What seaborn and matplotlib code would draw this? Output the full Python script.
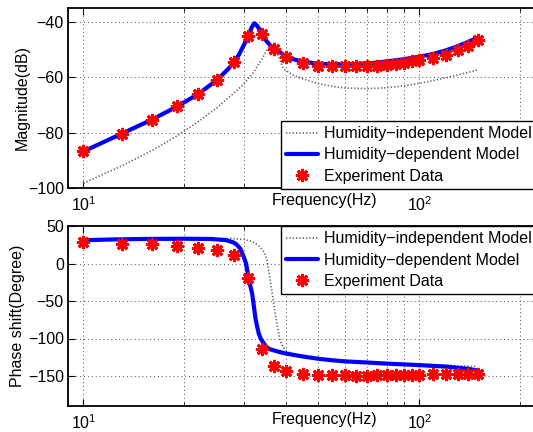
import matplotlib
matplotlib.use("Agg")
import matplotlib.pyplot as plt
import seaborn as sns
from matplotlib.ticker import LogLocator, NullFormatter, MultipleLocator

# ---- measured data (frequency in Hz) ----
exp_freq = [10, 13, 16, 19, 22, 25, 28, 31, 34, 37, 40, 45, 50, 55, 60, 65, 70,
            75, 80, 85, 90, 95, 100, 110, 120, 130, 140, 150]
exp_mag = [-86.8, -80.4, -75.3, -70.4, -66.0, -61.0, -54.6, -45.1, -44.5, -49.7,
           -52.6, -54.7, -55.8, -56.1, -56.1, -56.1, -56.0, -55.9, -55.6, -55.2,
           -54.7, -54.2, -53.7, -53.0, -51.8, -50.3, -48.6, -46.4]
exp_phase = [28.5, 26.5, 25.4, 23.0, 20.7, 17.7, 11.6, -19.1, -114.2, -136.8,
             -143.9, -147.4, -148.3, -149.2, -149.2, -150.3, -149.7, -149.2,
             -149.2, -149.2, -149.2, -148.3, -148.3, -147.4, -147.0, -147.0,
             -147.0, -147.4]

# ---- humidity-dependent model ----
dep_mag_freq = [10, 13, 16, 19, 22, 25, 27, 28, 29, 30, 31, 31.7, 32.3, 33, 34,
                35, 36, 37, 38.5, 40, 42.5, 45, 50, 55, 60, 65, 70, 75, 80, 90,
                100, 110, 120, 130, 140, 150]
dep_mag = [-86.8, -80.4, -75.3, -70.6, -66.0, -61.0, -57.0, -54.8, -52.0, -48.5,
           -45.0, -42.0, -40.5, -41.6, -44.3, -46.8, -48.5, -49.6, -51.0, -52.3,
           -53.6, -54.4, -55.1, -55.3, -55.3, -55.2, -55.0, -54.7, -54.3, -53.5,
           -52.6, -51.6, -50.3, -48.8, -47.2, -45.6]

dep_ph_freq = [10, 12, 15, 20, 24, 26.7, 28, 28.6, 29.3, 30, 30.5, 31, 31.4,
               31.8, 32.2, 32.5, 32.9, 33.3, 33.7, 34.5, 35.2, 36, 38, 40, 45,
               50, 55, 60, 70, 80, 100, 120, 140, 150]
dep_phase = [31.0, 32.0, 32.7, 33.0, 32.7, 31.0, 28.0, 25.2, 20.0, 9.0, 0.0,
             -18.0, -30.0, -40.0, -58.0, -72.0, -84.0, -94.0, -100.0, -107.0,
             -112.0, -114.5, -117.5, -120.0, -124.0, -127.0, -129.0, -130.5,
             -132.0, -133.5, -135.5, -137.5, -140.5, -143.0]

# ---- humidity-independent model ----
ind_mag_freq = [10, 13, 16, 19, 22, 25, 28, 30, 32, 34, 35.2, 36.3,
                37.3, 38.5, 39.4, 42, 44.8, 50, 55, 60, 70, 80, 90, 100, 110,
                120, 130, 140, 150]
ind_mag = [-98.3, -92.0, -86.5, -81.2, -76.0, -71.0, -65.8, -62.5, -58.5,
           -53.5, -50.1, -48.2, -49.5, -54.0, -56.9, -59.2, -60.5, -62.3, -63.3,
           -63.9, -64.1, -63.8, -63.1, -62.2, -61.2, -60.2, -59.2, -58.2, -57.3]

ind_ph_freq = [10, 15, 20, 24, 27.4, 30, 31.4, 32.5, 33.6, 34.5, 35.2, 35.8,
               36.5, 37.2, 37.8, 38.5, 39.3, 40.3, 43.3, 48.5, 55, 69, 80, 100,
               120, 148]
ind_phase = [31.0, 32.8, 33.5, 33.8, 33.5, 32.0, 30.0, 27.0, 22.0, 15.0, 5.0,
             -15.0, -40.0, -65.0, -84.0, -102.0, -112.0, -117.0, -123.0, -127.0,
             -129.5, -131.5, -132.5, -134.0, -135.5, -137.5]

labels = ["Humidity\u2212independent Model", "Humidity\u2212dependent Model",
          "Experiment Data"]

sns.set_theme(style="white")
plt.rcParams["font.family"] = ["Liberation Sans", "DejaVu Sans"]
plt.rcParams["mathtext.fontset"] = "custom"
plt.rcParams["mathtext.rm"] = "Liberation Sans"
plt.rcParams["mathtext.it"] = "Liberation Sans:italic"
plt.rcParams["mathtext.bf"] = "Liberation Sans:bold"
plt.rcParams["axes.unicode_minus"] = True

FS = 11.5
W, H = 533, 432
fig = plt.figure(figsize=(W / 100, H / 100), dpi=100)
fig.patch.set_facecolor("white")

left = 68 / W
width = (582 - 68) / W
ax1 = fig.add_axes([left, 1 - 188 / H, width, 180 / H])
ax2 = fig.add_axes([left, 1 - 406 / H, width, 180 / H])

asterisk = (8, 2, 0)


def draw(ax, f_ind, v_ind, f_dep, v_dep, f_exp, v_exp):
    sns.lineplot(x=f_ind, y=v_ind, ax=ax, color="0.4", lw=1.2,
                 linestyle=(0, (0.8, 1.2)), sort=False, estimator=None,
                 label=labels[0])
    sns.lineplot(x=f_dep, y=v_dep, ax=ax, color="#0000ff", lw=3.0,
                 sort=False, estimator=None, label=labels[1])
    sns.lineplot(x=f_exp, y=v_exp, ax=ax, color="red", linestyle="none",
                 marker=asterisk, markersize=9.5, markeredgewidth=2.0,
                 markeredgecolor="red", sort=False, estimator=None,
                 label=labels[2])


draw(ax1, ind_mag_freq, ind_mag, dep_mag_freq, dep_mag, exp_freq, exp_mag)
draw(ax2, ind_ph_freq, ind_phase, dep_ph_freq, dep_phase, exp_freq, exp_phase)

ax1.set_ylim(-100, -35)
ax1.yaxis.set_major_locator(MultipleLocator(20))
ax2.set_ylim(-190, 50)
ax2.yaxis.set_major_locator(MultipleLocator(50))

legend_tops = [121, 226]
ylabel_x = [-0.074, -0.084]
for ax, ylab, ltop, xl_y, yl_x in zip([ax1, ax2],
                                      ["Magnitude(dB)", "Phase shift(Degree)"],
                                      legend_tops, [-0.028, -0.035], ylabel_x):
    ax.set_xscale("log")
    ax.set_xlim(9.0, 305)
    ax.xaxis.set_major_locator(LogLocator(base=10))
    ax.xaxis.set_minor_locator(LogLocator(base=10, subs=range(2, 10)))
    ax.xaxis.set_minor_formatter(NullFormatter())
    ax.set_facecolor("white")
    ax.grid(True, which="major", axis="both", color="0.3", linestyle=(0, (1, 3)), lw=0.7)
    ax.grid(True, which="minor", axis="x", color="0.3", linestyle=(0, (1, 3)), lw=0.7)
    for s in ax.spines.values():
        s.set_color("black")
        s.set_linewidth(1.3)
    ax.tick_params(which="both", direction="in", top=True, right=True,
                   bottom=True, left=True, colors="black", labelsize=FS)
    ax.tick_params(which="major", length=5, width=0.8)
    ax.tick_params(which="minor", length=3, width=0.6)
    ax.tick_params(axis="x", pad=5)
    ax.tick_params(axis="y", pad=3)
    ax.set_ylabel(ylab, fontsize=FS, color="black")
    ax.yaxis.set_label_coords(yl_x, 0.5)
    ax.set_xlabel("Frequency(Hz)", fontsize=FS, color="black")
    ax.xaxis.set_label_coords(0.5, xl_y)

    handles, labs = ax.get_legend_handles_labels()
    leg = ax.legend(handles[:3], labs[:3], loc="upper left",
                    bbox_to_anchor=(281 / W, 1 - ltop / H),
                    bbox_transform=fig.transFigure, borderaxespad=0,
                    frameon=True, fancybox=False, framealpha=1,
                    edgecolor="black", fontsize=FS, handlelength=2.0,
                    handletextpad=0.35, labelspacing=0.4, borderpad=0.32,
                    numpoints=1)
    leg.get_frame().set_linewidth(1.0)
    for t in leg.get_texts():
        t.set_color("black")

fig.savefig("out.png", dpi=100, facecolor="white")
